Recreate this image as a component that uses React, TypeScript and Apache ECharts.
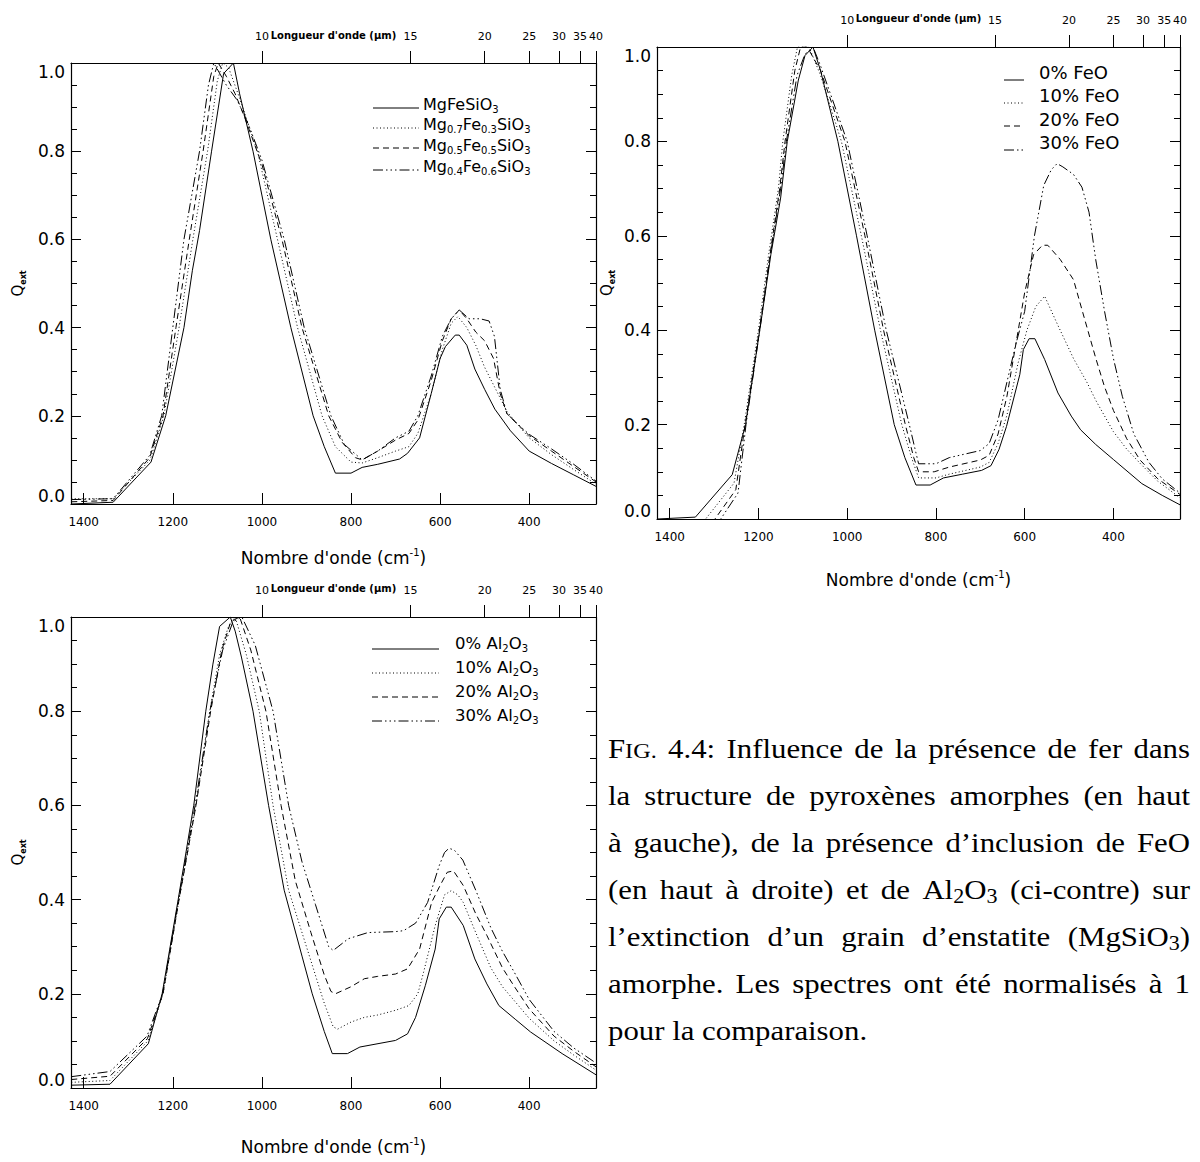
import React, { useEffect, useRef } from 'react';
import * as echarts from 'echarts';

type Pt = [number, number];

// ---------- axes ----------
const WN_MIN = 250; // 40 µm
const WN_MAX = 10000 / 7; // 7 µm
const wavenumberTicks = [1400, 1200, 1000, 800, 600, 400];
const wavelengthTicks = [10, 15, 20, 25, 30, 35, 40];
const qInterval = 0.2;

// ---------- panel 1 : pyroxènes MgxFe1-xSiO3 ----------
const p1MgFe: Pt[] = [[1428,0.0],[1334,0.004],[1249,0.095],[1216,0.2],[1175,0.4],[1156,0.53],[1140,0.62],[1113,0.8],[1086,0.976],[1064,1.0],[1050,0.93],[1020,0.8],[980,0.6],[935,0.4],[885,0.2],[860,0.13],[835,0.07],[800,0.07],[775,0.083],[740,0.09],[691,0.102],[673,0.115],[646,0.15],[620,0.25],[600,0.33],[588,0.357],[566,0.383],[557,0.383],[540,0.36],[522,0.306],[500,0.26],[477,0.215],[442,0.166],[400,0.12],[350,0.092],[300,0.066],[250,0.04]];
const p1Mg07: Pt[] = [[1428,0.012],[1334,0.012],[1251,0.1],[1220,0.2],[1186,0.4],[1155,0.6],[1122,0.8],[1100,0.96],[1088,1.0],[1075,0.99],[1050,0.92],[1010,0.8],[965,0.6],[920,0.4],[865,0.2],[835,0.13],[800,0.095],[775,0.093],[740,0.105],[700,0.12],[670,0.13],[650,0.16],[620,0.25],[595,0.35],[575,0.41],[560,0.425],[540,0.4],[520,0.36],[500,0.31],[470,0.25],[450,0.21],[430,0.185],[400,0.15],[350,0.112],[300,0.078],[250,0.045]];
const p1Mg05: Pt[] = [[1428,0.005],[1334,0.008],[1252,0.105],[1222,0.2],[1193,0.4],[1163,0.6],[1132,0.8],[1108,0.97],[1098,1.0],[1080,0.97],[1060,0.93],[1040,0.88],[1000,0.77],[955,0.6],[910,0.4],[850,0.2],[820,0.14],[790,0.105],[775,0.1],[740,0.12],[700,0.145],[670,0.16],[650,0.19],[620,0.28],[595,0.37],[575,0.42],[557,0.44],[540,0.42],[520,0.39],[500,0.37],[480,0.33],[465,0.25],[450,0.205],[430,0.185],[400,0.155],[350,0.12],[300,0.085],[250,0.05]];
const p1Mg04: Pt[] = [[1428,0.01],[1334,0.012],[1252,0.11],[1225,0.2],[1200,0.4],[1175,0.6],[1140,0.8],[1120,0.95],[1108,1.0],[1080,0.95],[1055,0.915],[1030,0.86],[1000,0.78],[950,0.6],[905,0.4],[845,0.2],[815,0.135],[775,0.1],[740,0.12],[700,0.15],[670,0.165],[650,0.2],[620,0.29],[595,0.38],[575,0.42],[557,0.44],[535,0.42],[510,0.42],[490,0.415],[478,0.38],[465,0.26],[450,0.205],[430,0.185],[400,0.158],[350,0.125],[300,0.09],[250,0.052]];

// ---------- panel 2 : inclusions de FeO ----------
const p2Fe0: Pt[] = [[1428,0.0],[1342,0.004],[1259,0.094],[1229,0.2],[1197,0.4],[1172,0.56],[1150,0.68],[1135,0.8],[1110,0.93],[1095,0.982],[1077,1.0],[1060,0.95],[1021,0.8],[979,0.6],[938,0.4],[894,0.2],[870,0.13],[845,0.072],[813,0.072],[783,0.087],[740,0.095],[697,0.103],[676,0.113],[658,0.147],[641,0.196],[611,0.306],[603,0.359],[590,0.382],[577,0.382],[555,0.338],[525,0.267],[495,0.218],[474,0.189],[440,0.158],[400,0.126],[336,0.075],[290,0.05],[250,0.03]];
const p2Fe10: Pt[] = [[1428,-0.3],[1319,0.0],[1255,0.076],[1232,0.2],[1200,0.4],[1177,0.56],[1155,0.7],[1145,0.8],[1125,0.94],[1112,1.0],[1086,1.0],[1060,0.94],[1013,0.8],[968,0.6],[925,0.4],[877,0.2],[855,0.13],[839,0.087],[800,0.087],[770,0.095],[700,0.11],[680,0.12],[660,0.16],[640,0.22],[615,0.33],[595,0.4],[575,0.45],[555,0.472],[525,0.41],[490,0.34],[460,0.29],[439,0.25],[400,0.185],[370,0.148],[340,0.118],[300,0.08],[250,0.045]];
const p2Fe20: Pt[] = [[1428,-0.35],[1298,0.0],[1251,0.062],[1230,0.2],[1198,0.4],[1174,0.56],[1152,0.7],[1140,0.8],[1118,0.95],[1105,1.0],[1090,1.0],[1060,0.95],[1005,0.8],[960,0.6],[918,0.4],[869,0.2],[850,0.13],[839,0.1],[804,0.1],[770,0.11],[700,0.125],[680,0.135],[660,0.18],[640,0.26],[620,0.37],[600,0.48],[580,0.56],[560,0.58],[548,0.58],[520,0.55],[490,0.507],[469,0.437],[439,0.338],[420,0.28],[400,0.23],[370,0.17],[340,0.125],[300,0.085],[250,0.052]];
const p2Fe30: Pt[] = [[1428,-0.4],[1285,0.0],[1246,0.055],[1228,0.2],[1197,0.4],[1173,0.56],[1150,0.7],[1137,0.8],[1113,0.94],[1095,0.985],[1077,1.0],[1060,0.96],[1000,0.8],[955,0.6],[912,0.4],[860,0.2],[845,0.14],[839,0.117],[800,0.117],[770,0.13],[700,0.145],[680,0.16],[660,0.21],[640,0.29],[620,0.37],[600,0.44],[578,0.6],[557,0.707],[540,0.74],[527,0.753],[514,0.746],[490,0.73],[471,0.703],[455,0.65],[440,0.55],[420,0.44],[400,0.34],[380,0.26],[354,0.18],[320,0.12],[290,0.085],[250,0.055]];

// ---------- panel 3 : inclusions de Al2O3 ----------
const p3Al0: Pt[] = [[1428,0.006],[1341,0.008],[1255,0.094],[1224,0.2],[1188,0.4],[1153,0.6],[1126,0.8],[1110,0.9],[1095,0.98],[1071,1.0],[1060,0.97],[1046,0.915],[1020,0.8],[985,0.6],[950,0.42],[910,0.28],[887,0.2],[860,0.12],[842,0.073],[808,0.073],[780,0.087],[700,0.101],[673,0.115],[655,0.15],[633,0.218],[611,0.295],[602,0.359],[586,0.384],[575,0.384],[548,0.345],[522,0.274],[495,0.221],[468,0.175],[430,0.145],[397,0.119],[326,0.073],[250,0.028]];
const p3Al10: Pt[] = [[1428,0.012],[1341,0.016],[1256,0.1],[1222,0.2],[1186,0.4],[1148,0.6],[1117,0.8],[1095,0.92],[1075,0.98],[1060,1.0],[1035,0.92],[1006,0.8],[975,0.6],[940,0.42],[900,0.3],[860,0.18],[840,0.13],[830,0.125],[800,0.14],[770,0.15],[740,0.155],[700,0.165],[670,0.175],[650,0.2],[637,0.246],[611,0.345],[590,0.41],[575,0.419],[560,0.41],[548,0.394],[520,0.33],[486,0.255],[460,0.215],[433,0.185],[400,0.148],[344,0.1],[300,0.07],[250,0.038]];
const p3Al20: Pt[] = [[1428,0.018],[1341,0.025],[1257,0.105],[1222,0.2],[1186,0.4],[1148,0.6],[1115,0.8],[1090,0.93],[1070,0.99],[1050,1.0],[1025,0.93],[991,0.8],[957,0.6],[925,0.44],[890,0.33],[860,0.24],[845,0.205],[835,0.2],[800,0.215],[770,0.232],[740,0.237],[700,0.242],[673,0.253],[646,0.295],[619,0.394],[600,0.43],[584,0.458],[570,0.461],[548,0.43],[520,0.37],[495,0.324],[460,0.255],[433,0.215],[400,0.168],[344,0.11],[300,0.078],[250,0.045]];
const p3Al30: Pt[] = [[1428,0.024],[1341,0.035],[1258,0.11],[1223,0.2],[1187,0.4],[1150,0.6],[1117,0.8],[1088,0.93],[1065,0.99],[1045,1.0],[1015,0.94],[975,0.8],[940,0.6],[910,0.48],[880,0.39],[850,0.3],[840,0.292],[806,0.317],[762,0.33],[700,0.332],[682,0.334],[655,0.35],[628,0.394],[602,0.472],[590,0.5],[580,0.509],[568,0.505],[549,0.484],[520,0.42],[486,0.34],[460,0.29],[433,0.245],[400,0.188],[344,0.12],[300,0.085],[250,0.053]];

// ---------- labels ----------
const p1Legend = ['{n|MgFeSiO}{s|3}', '{n|Mg}{s|0.7}{n|Fe}{s|0.3}{n|SiO}{s|3}', '{n|Mg}{s|0.5}{n|Fe}{s|0.5}{n|SiO}{s|3}', '{n|Mg}{s|0.4}{n|Fe}{s|0.6}{n|SiO}{s|3}'];
const p2Legend = ['{n|0% FeO}', '{n|10% FeO}', '{n|20% FeO}', '{n|30% FeO}'];
const p3Legend = ['{n|0% Al}{s|2}{n|O}{s|3}', '{n|10% Al}{s|2}{n|O}{s|3}', '{n|20% Al}{s|2}{n|O}{s|3}', '{n|30% Al}{s|2}{n|O}{s|3}'];
const xTitle = "{n|Nombre d'onde (cm}{p|-1}{n|)}";
const topTitle = "Longueur d'onde (\u03bcm)";
const yTitle = '{q|Q}{e|ext}';
const captionLines = [
  'F{sc|IG.} 4.4: Influence de la présence de fer dans',
  'la structure de pyroxènes amorphes (en haut',
  'à gauche), de la présence d\u2019inclusion de FeO',
  '(en haut à droite) et de Al{sub|2}O{sub|3} (ci-contre) sur',
  'l\u2019extinction d\u2019un grain d\u2019enstatite (MgSiO{sub|3})',
  'amorphe. Les spectres ont été normalisés à 1',
  'pour la comparaison.',
];

// ---------- layout / style ----------
const FONT = 'DejaVu Sans';
const CAP_FONT = 'Liberation Serif';
const CAP_SIZE = 28;
const CAP_SCALE_X = 1.1;
const DASHES: (number[] | 'solid')[] = ['solid', [1, 2.5], [6, 4], [10, 3, 1.5, 3, 1.5, 3, 1.5, 3]];

const panels = [
  {
    grid: { left: 71, top: 63, width: 525, height: 441 },
    data: [p1MgFe, p1Mg07, p1Mg05, p1Mg04],
    legend: p1Legend,
    leg: { x1: 373, x2: 419, tx: 423, ty: [104, 124, 145, 166], ly: [108, 128, 148, 170], fs: 16, sub: 10 },
    xTitleY: 558, topY: 35, yTitleX: 18,
  },
  {
    grid: { left: 657, top: 47, width: 523, height: 472 },
    data: [p2Fe0, p2Fe10, p2Fe20, p2Fe30],
    legend: p2Legend,
    leg: { x1: 1004, x2: 1024, tx: 1039, ty: [72, 95.5, 119, 142.5], ly: [80, 103, 126, 150], fs: 18, sub: 11 },
    xTitleY: 580, topY: 18, yTitleX: 607,
  },
  {
    grid: { left: 71, top: 617, width: 525, height: 471 },
    data: [p3Al0, p3Al10, p3Al20, p3Al30],
    legend: p3Legend,
    leg: { x1: 372, x2: 439, tx: 455, ty: [643, 667, 691, 715], ly: [649, 673, 697, 721], fs: 16.5, sub: 10 },
    xTitleY: 1147, topY: 588, yTitleX: 18,
  },
];

function parseWord(w: string) {
  const segs: { s: string; t: string }[] = [];
  const re = /\{(sc|sub)\|([^}]*)\}/g;
  let last = 0;
  let m: RegExpExecArray | null;
  while ((m = re.exec(w))) {
    if (m.index > last) segs.push({ s: 'n', t: w.slice(last, m.index) });
    segs.push({ s: m[1], t: m[2] });
    last = re.lastIndex;
  }
  if (last < w.length) segs.push({ s: 'n', t: w.slice(last) });
  return segs;
}

function buildCaption(): any[] {
  const LH0 = 34;
  const capRich: any = {
    n: { fontSize: CAP_SIZE, fontFamily: CAP_FONT, fill: '#000', lineHeight: LH0 },
    sc: { fontSize: 22, fontFamily: CAP_FONT, fill: '#000', padding: [4, 0, 0, 0] },
    sub: { fontSize: 20, fontFamily: CAP_FONT, fill: '#000', lineHeight: 20, verticalAlign: 'bottom' },
  };
  const sizes: any = { n: CAP_SIZE, sc: 22, sub: 20 };
  const ctx = document.createElement('canvas').getContext('2d') as CanvasRenderingContext2D;
  const meas = (t: string, s: string) => {
    ctx.font = `${sizes[s]}px "${CAP_FONT}"`;
    return ctx.measureText(t).width * CAP_SCALE_X;
  };
  const X0 = 608, W = 582, Y0 = 748, LH = 47;
  const out: any[] = [];
  captionLines.forEach((line, li) => {
    const words = line.split(' ').map(parseWord);
    const widths = words.map((segs) => segs.reduce((a, sg) => a + meas(sg.t, sg.s), 0));
    const total = widths.reduce((a, b) => a + b, 0);
    const justify = li < captionLines.length - 1;
    const gap = justify ? (W - total) / (words.length - 1) : meas(' ', 'n');
    let x = X0;
    words.forEach((segs, wi) => {
      out.push({
        type: 'text', x, y: Y0 + li * LH, scaleX: CAP_SCALE_X, silent: true,
        style: { text: segs.map((sg) => `{${sg.s}|${sg.t}}`).join(''), rich: capRich, align: 'left', verticalAlign: 'middle' },
      });
      x += widths[wi] + gap;
    });
  });
  return out;
}

function buildOption(): any {
  const grid: any[] = [];
  const xAxis: any[] = [];
  const yAxis: any[] = [];
  const series: any[] = [];
  const graphic: any[] = [];
  const wlValues = wavelengthTicks.map((l) => 10000 / l);
  const axisLine = { show: true, onZero: false, lineStyle: { color: '#000', width: 1.2 } };

  panels.forEach((p, i) => {
    grid.push({ ...p.grid, containLabel: false });
    xAxis.push({
      gridIndex: i, type: 'value', position: 'bottom', inverse: true, min: WN_MIN, max: WN_MAX,
      axisLine, splitLine: { show: false },
      axisTick: { show: true, inside: true, length: 11, customValues: wavenumberTicks, lineStyle: { color: '#000' } },
      axisLabel: { show: true, customValues: wavenumberTicks, margin: 12, fontSize: 12, fontFamily: FONT, color: '#000', formatter: (v: number) => String(Math.round(v)) },
    });
    xAxis.push({
      gridIndex: i, type: 'value', position: 'top', inverse: true, min: WN_MIN, max: WN_MAX,
      axisLine, splitLine: { show: false },
      axisTick: { show: true, inside: false, length: 12, customValues: wlValues, lineStyle: { color: '#000' } },
      axisLabel: { show: true, customValues: wlValues, margin: 21, fontSize: 11, fontFamily: FONT, color: '#000', showMinLabel: true, showMaxLabel: true, formatter: (v: number) => String(Math.round(10000 / v)) },
    });
    const yBase = {
      gridIndex: i, type: 'value', min: 0, max: 1, interval: qInterval,
      axisLine, splitLine: { show: false },
      axisTick: { show: true, inside: true, length: 10, lineStyle: { color: '#000' } },
      minorTick: { show: true, splitNumber: 4, length: 6, lineStyle: { color: '#000' } },
    };
    yAxis.push({
      ...yBase, position: 'left',
      axisLabel: { show: true, margin: 6, fontSize: 17, fontFamily: FONT, color: '#000', formatter: (v: number) => v.toFixed(1), verticalAlignMinLabel: 'bottom', verticalAlignMaxLabel: 'top' },
    });
    yAxis.push({ ...yBase, position: 'right', axisLabel: { show: false } });

    p.data.forEach((d, k) => {
      series.push({
        type: 'line', xAxisIndex: 2 * i, yAxisIndex: 2 * i, data: d, symbol: 'none', showSymbol: false,
        silent: true, clip: true,
        lineStyle: { color: '#000', width: 1, type: DASHES[k] },
      });
    });

    // legend
    const L = p.leg;
    const rich = {
      n: { fontSize: L.fs, fontFamily: FONT, fill: '#000', lineHeight: L.fs + 4 },
      s: { fontSize: L.sub, fontFamily: FONT, fill: '#000', lineHeight: L.sub + 0.5, verticalAlign: 'bottom' },
    };
    p.legend.forEach((txt, k) => {
      graphic.push({
        type: 'line', silent: true,
        shape: { x1: L.x1, y1: L.ly[k], x2: L.x2, y2: L.ly[k] },
        style: { stroke: '#000', lineWidth: 1, lineDash: DASHES[k] === 'solid' ? null : DASHES[k] },
      });
      graphic.push({
        type: 'text', x: L.tx, y: L.ty[k], silent: true,
        style: { text: txt, rich, align: 'left', verticalAlign: 'middle' },
      });
    });

    const cx = p.grid.left + p.grid.width / 2;
    const cy = p.grid.top + p.grid.height / 2;
    graphic.push({
      type: 'text', x: cx, y: p.xTitleY, silent: true,
      style: {
        text: xTitle, align: 'center', verticalAlign: 'middle',
        rich: {
          n: { fontSize: 17, fontFamily: FONT, fill: '#000', lineHeight: 22 },
          p: { fontSize: 10, fontFamily: FONT, fill: '#000', lineHeight: 14.4, verticalAlign: 'top' },
        },
      },
    });
    graphic.push({
      type: 'text', x: cx, y: p.topY, silent: true,
      style: { text: topTitle, align: 'center', verticalAlign: 'middle', fontSize: 10, fontWeight: 'bold', fontFamily: FONT, fill: '#000' },
    });
    graphic.push({
      type: 'text', x: p.yTitleX, y: cy, rotation: Math.PI / 2, silent: true,
      style: {
        text: yTitle, align: 'center', verticalAlign: 'middle',
        rich: {
          q: { fontSize: 15, fontFamily: FONT, fill: '#000', lineHeight: 18 },
          e: { fontSize: 8, fontFamily: FONT, fontWeight: 'bold', fill: '#000', lineHeight: 9, verticalAlign: 'bottom' },
        },
      },
    });
  });

  graphic.push(...buildCaption());

  return {
    animation: false,
    backgroundColor: '#fff',
    textStyle: { fontFamily: FONT },
    grid, xAxis, yAxis, series, graphic,
  };
}

export default function App() {
  const ref = useRef<HTMLDivElement>(null);
  useEffect(() => {
    if (!ref.current) return;
    const chart = echarts.init(ref.current, undefined, { renderer: 'svg' });
    chart.setOption(buildOption());
    return () => chart.dispose();
  }, []);
  return (
    <div
      ref={ref}
      style={{ position: 'absolute', left: 0, top: 0, width: 1200, height: 1162, background: '#fff' }}
    />
  );
}
